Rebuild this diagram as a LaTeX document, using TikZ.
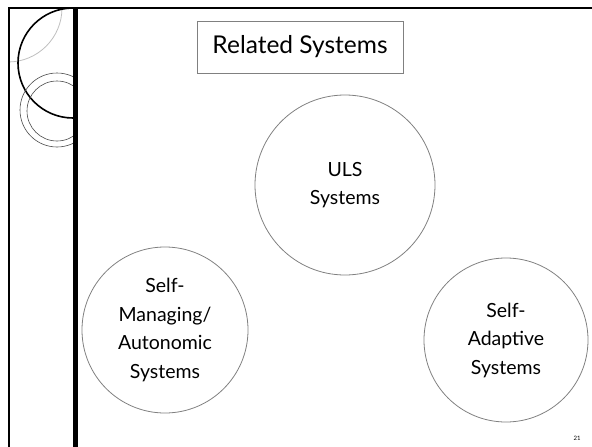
\documentclass[tikz,border=0pt]{standalone}
\usepackage{fontspec}
\setmainfont{Lato}
\usepackage{xcolor}
\usepackage{tikz}
\definecolor{rim}{gray}{0.5}
\definecolor{pale}{gray}{0.75}
\tikzset{
  bubble/.style={circle,draw=rim,line width=0.8pt,minimum size=#1,inner sep=0pt,align=center,font=\fontsize{19.5}{28.5}\selectfont},
  titlebox/.style={draw=rim,line width=0.8pt,minimum width=206pt,minimum height=52pt,inner sep=0pt,font=\fontsize{24.5}{30}\selectfont}
}

\begin{document}
\begin{tikzpicture}[x=1pt,y=-1pt]
\useasboundingbox (0,0) rectangle (592,447);

\begin{scope}
\clip (9,8) rectangle (73,447);
\draw [pale,line width=0.8pt] (8,8) circle[radius=54];
\draw [line width=1.6pt] (73,63) circle[radius=55];
\draw [black!70,line width=0.6pt] (57,110) circle[radius=37];
\draw [black!70,line width=0.6pt] (57,111) circle[radius=30];
\end{scope}

\draw [line width=2.5pt] (8,8) -- (592,8);
\draw [line width=1.5pt] (9,8) -- (9,447);
\draw [line width=5pt] (75.5,8) -- (75.5,447);

\node [titlebox] (title) at (300,47) {Related Systems};

\node [bubble=180pt] (uls) at (345,185) {ULS\\Systems};
\node [bubble=166pt] (selfman) at (165,330) {Self-\\Managing/\\Autonomic\\Systems};
\node [bubble=164pt] (selfadapt) at (506,340) {Self-\\Adaptive\\Systems};

\node [font=\fontsize{6}{7}\selectfont] (page) at (577,438) {21};
\end{tikzpicture}
\end{document}
